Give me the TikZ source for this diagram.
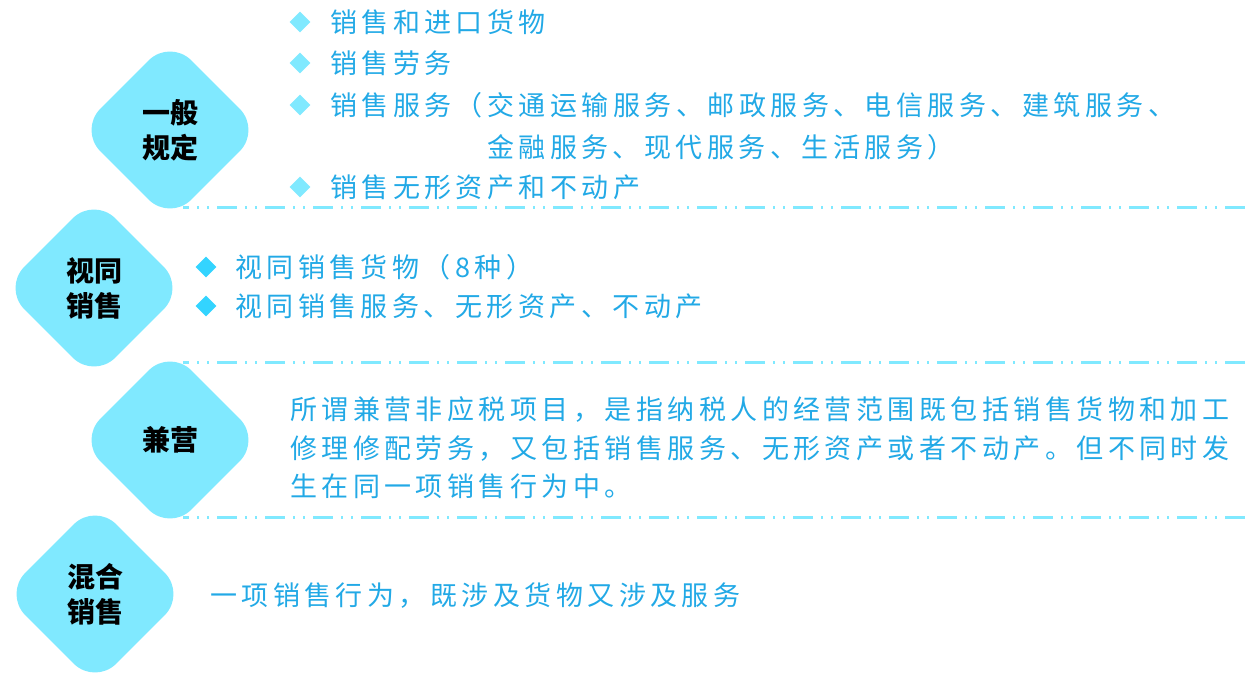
\documentclass[tikz,border=0pt]{standalone}
\usepackage{fontspec}
\usetikzlibrary{shapes.geometric}
\newfontfamily\cjk{Noto Sans CJK SC}[LetterSpace=16.5]
\newfontfamily\cjkdiam{Noto Sans CJK SC}
\definecolor{celeste}{HTML}{80E9FF}
\definecolor{celesteosc}{HTML}{33D4FF}
\definecolor{azultexto}{HTML}{22A9E6}
\begin{document}
\begin{tikzpicture}[x=1pt,y=-1pt,
    rombo/.style={shape=diamond,aspect=1,fill=celeste,minimum width=182pt,minimum height=182pt,inner sep=0pt,rounded corners=30pt,font=\cjkdiam\bfseries\fontsize{28}{35}\selectfont,align=center,text=black},
    vineta/.style={shape=diamond,aspect=1,fill=#1,minimum width=21pt,minimum height=21pt,inner sep=0pt},
    texto/.style={anchor=west,inner sep=0pt,text=azultexto,font=\cjk\fontsize{27}{38.5}\selectfont,align=left},
    separador/.style={celeste,line width=3pt,dash pattern=on 20pt off 8pt on 2pt off 8pt on 2pt off 8pt,dash phase=14pt}]
\def\xini{183};%inicio de los separadores
\def\xfin{1248};%fin de los separadores
\useasboundingbox (0,0) rectangle (1248,679);

%Separadores
\foreach \y [count=\i] in {208,362,517}{
    \coordinate (sepA\i) at (\xini,\y);
    \coordinate (sepB\i) at (\xfin,\y);
    \draw[separador] (sepA\i) -- (sepB\i);
}

%Rombos
\node[rombo] (general) at (170,130) {一般\\规定};
\node[rombo] (asimilada) at (94,288) {视同\\销售};
\node[rombo] (mixta) at (170,440) {兼营};
\node[rombo] (combinada) at (95,594) {混合\\销售};

%Primer bloque
\foreach \y [count=\i] in {22,63,105,187}{
    \node[vineta=celeste] (vA\i) at (300,\y) {};
}
\node[texto] (tA1) at (330,22) {销售和进口货物};
\node[texto] (tA2) at (330,63) {销售劳务};
\node[texto] (tA3) at (330,105) {销售服务（交通运输服务、邮政服务、电信服务、建筑服务、};
\node[texto] (tA3b) at (487,147) {金融服务、现代服务、生活服务）};
\node[texto] (tA4) at (330,187) {销售无形资产和不动产};

%Segundo bloque
\node[vineta=celesteosc] (vB1) at (206,267) {};
\node[vineta=celesteosc] (vB2) at (206,306) {};
\node[texto] (tB1) at (235,267) {视同销售货物（8种）};
\node[texto] (tB2) at (235,306) {视同销售服务、无形资产、不动产};

%Tercer bloque
\node[texto] (tC) at (290,448) {所谓兼营非应税项目，是指纳税人的经营范围既包括销售货物和加工\\修理修配劳务，又包括销售服务、无形资产或者不动产。但不同时发\\生在同一项销售行为中。};

%Cuarto bloque
\node[texto] (tD) at (210,596) {一项销售行为，既涉及货物又涉及服务};
\end{tikzpicture}
\end{document}
